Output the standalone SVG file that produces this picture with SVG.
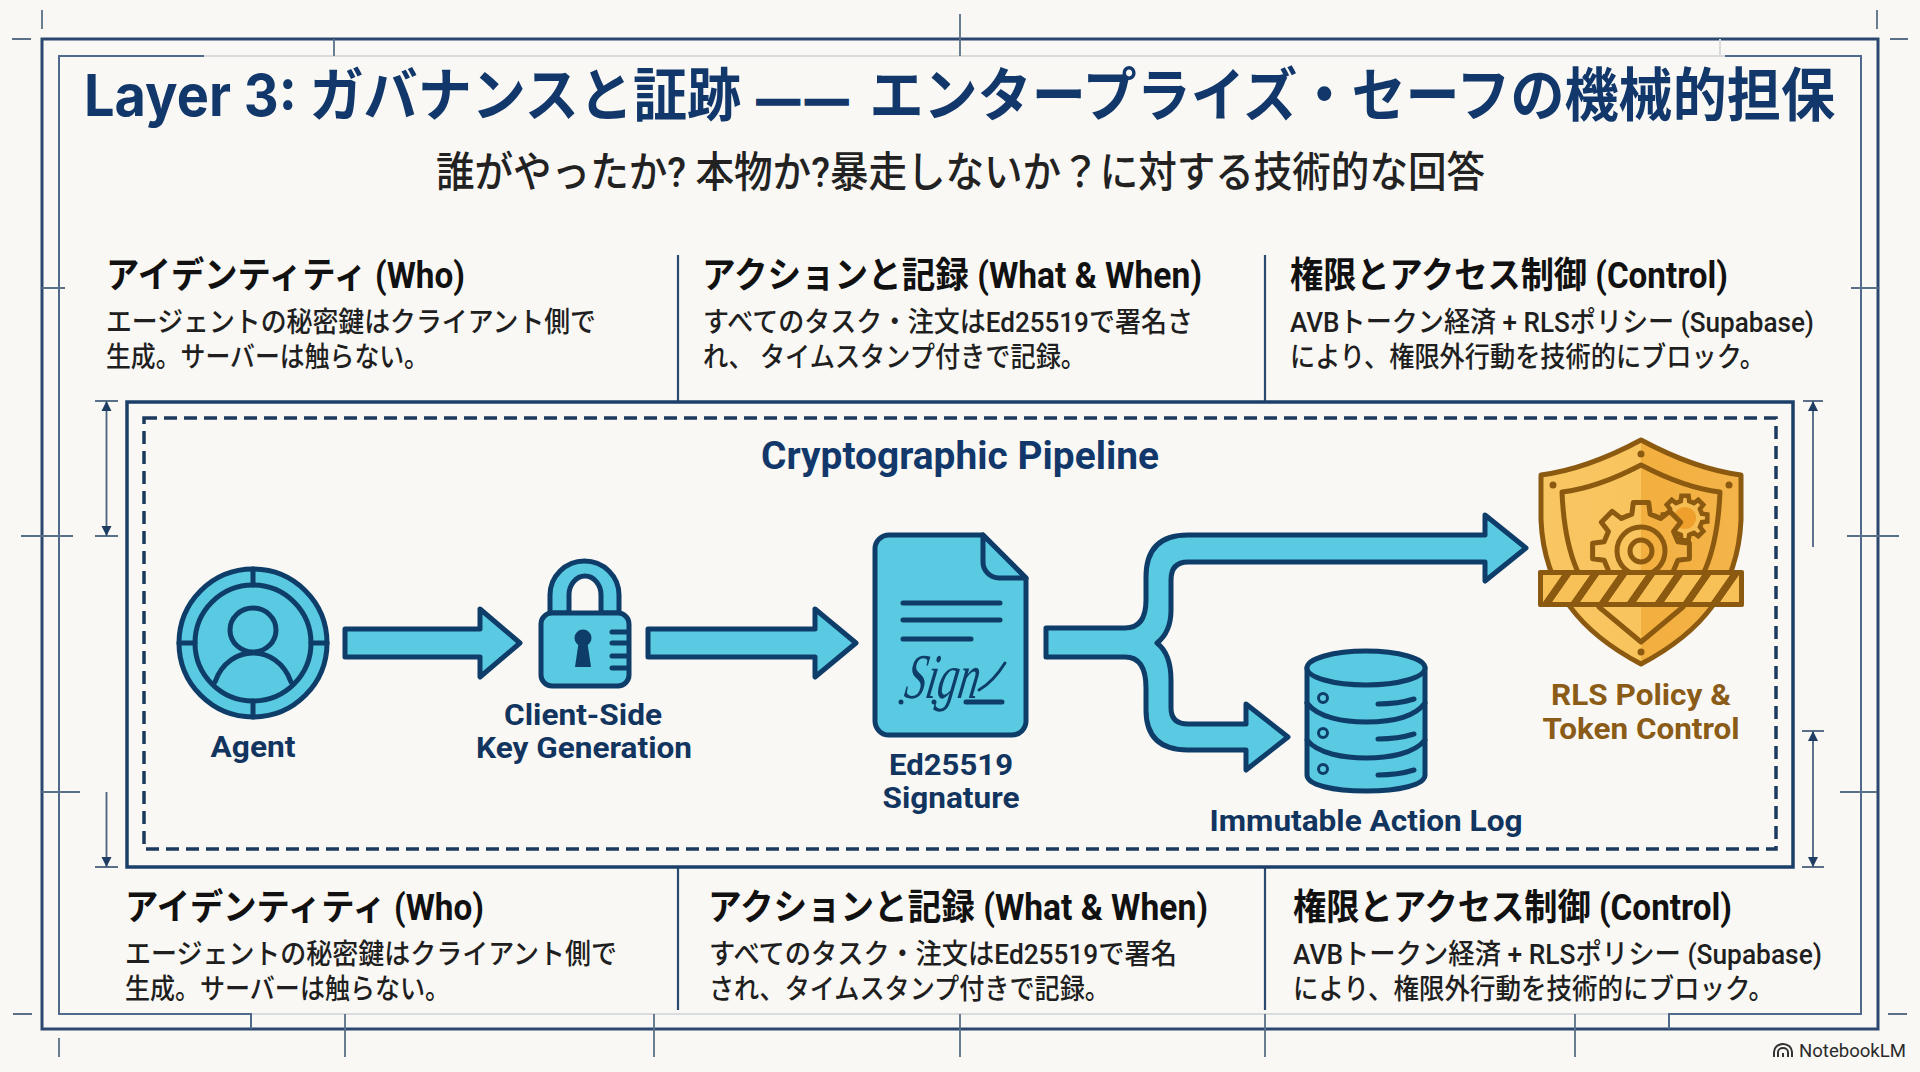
<svg xmlns="http://www.w3.org/2000/svg" width="1920" height="1072" viewBox="0 0 1920 1072">
<style>
text{font-family:Roboto,"Noto Sans CJK JP","Noto Sans",sans-serif}
.title{font-family:Inter,"Noto Sans CJK JP",sans-serif;font-size:58px;font-weight:700;fill:#12386b}
.sub{font-size:42px;fill:#222;font-weight:500}
.h{font-size:36px;font-weight:700;fill:#111}
.b{font-size:28px;fill:#1f1f1f;font-weight:500}
.lab{font-size:30px;font-weight:700;fill:#12355f;text-anchor:middle}
.gold{fill:#8a5c18}
.frame{fill:none;stroke:#2c4870;stroke-width:3}
.inner{fill:none;stroke:#4f6a8a;stroke-width:2}
.pale{fill:none;stroke:#d9dcdc;stroke-width:2}
.tick{fill:none;stroke:#5a7088;stroke-width:1.8}
.dim{fill:none;stroke:#4a6380;stroke-width:1.8}
.div{fill:none;stroke:#2c4a70;stroke-width:2.2}
.ic{fill:#5ac9e2;stroke:#0f3d69;stroke-width:5;stroke-linejoin:round;stroke-linecap:round}
.ln{fill:none;stroke:#0f3d69;stroke-width:5;stroke-linecap:round;stroke-linejoin:round}
.arr{fill:#5ac9e2;stroke:#0f3d69;stroke-width:5;stroke-linejoin:round}
.sh{fill:url(#split);stroke:#8b5a10;stroke-width:5;stroke-linejoin:round}
.shn{fill:none;stroke:#8b5a10;stroke-width:5;stroke-linejoin:round}
.riv{fill:#8b5a10}
</style>
<defs>
<linearGradient id="split" x1="0" x2="1" y1="0" y2="0"><stop offset="0" stop-color="#f8c662"/><stop offset=".5" stop-color="#f8c45e"/><stop offset=".5" stop-color="#f3af3e"/><stop offset="1" stop-color="#f4b44a"/></linearGradient>
<marker id="ah" viewBox="0 0 10 12" refX="10" refY="6" markerWidth="10" markerHeight="12" orient="auto-start-reverse" markerUnits="userSpaceOnUse"><path d="M0 1L10 6L0 11Z" fill="#1f3d63"/></marker>
<pattern id="stripe" width="28" height="27" patternUnits="userSpaceOnUse" patternTransform="translate(1543 575) skewX(-35)"><rect width="19" height="27" fill="#f8c158"/></pattern>
<path id="gear" d="M36.87 -9.19L48.4 -7.67L48.4 7.67L36.87 9.19L32.57 19.57L39.64 28.8L28.8 39.64L19.57 32.57L9.19 36.87L7.67 48.4L-7.67 48.4L-9.19 36.87L-19.57 32.57L-28.8 39.64L-39.64 28.8L-32.57 19.57L-36.87 9.19L-48.4 7.67L-48.4 -7.67L-36.87 -9.19L-32.57 -19.57L-39.64 -28.8L-28.8 -39.64L-19.57 -32.57L-9.19 -36.87L-7.67 -48.4L7.67 -48.4L9.19 -36.87L19.57 -32.57L28.8 -39.64L39.64 -28.8L32.57 -19.57Z"/>
</defs>
<rect width="1920" height="1072" fill="#f9f8f4"/>

<g id="frame">
<rect class="frame" x="42" y="39" width="1836" height="990"/>
<path class="pale" d="M204 56H1725M1720 39V56M251 1014H1669"/>
<path class="inner" d="M204 56H59V1014H251V1029M1725 56H1861V1014H1669V1029"/>
<path class="tick" d="M42 10V29M12 39H31M334 39V56M960 14V56M1877 10V29M1890 39H1908M13 1014H32M1888 1014H1907M59 1038V1057M345 1014V1057M654 1014V1057M960 1014V1057M1265 1014V1057M1575 1014V1057M42 288H65M1851 288H1878M21 536H73M1847 536H1899M42 792H80M1840 792H1877M95 401H118M95 536H118M95 867H118M1803 401H1823M1802 731H1824M1802 867H1824"/>
<path class="dim" d="M106.500 401V536" marker-start="url(#ah)" marker-end="url(#ah)"/>
<path class="dim" d="M106.500 792V867" marker-end="url(#ah)"/>
<path class="dim" d="M1813 547V401" marker-end="url(#ah)"/>
<path class="dim" d="M1813 731V867" marker-start="url(#ah)" marker-end="url(#ah)"/>
<path class="div" d="M678 255V402M1265 255V402M678 867V1010M1265 867V1010"/>
</g>

<g id="heading">
<text class="title" x="84" y="116" textLength="1751" lengthAdjust="spacingAndGlyphs">Layer 3: ガバナンスと証跡 <tspan dx="3" font-size="46" letter-spacing="6" stroke="#12386b" stroke-width="1.500">——</tspan><tspan dx="3"> エンタープライズ・セーフの機械的担保</tspan></text>
<text class="sub" x="436" y="187" textLength="1049" lengthAdjust="spacingAndGlyphs">誰がやったか? 本物か?暴走しないか？に対する技術的な回答</text>
</g>

<g id="top-who">
<text class="h" x="106" y="288" textLength="359" lengthAdjust="spacingAndGlyphs">アイデンティティ (Who)</text>
<text class="b" x="106" y="332" textLength="490" lengthAdjust="spacingAndGlyphs">エージェントの秘密鍵はクライアント側で</text>
<text class="b" x="106" y="367" textLength="323" lengthAdjust="spacingAndGlyphs">生成。サーバーは触らない。</text>
</g>
<g id="top-what">
<text class="h" x="702" y="288" textLength="500" lengthAdjust="spacingAndGlyphs">アクションと記録 (What &amp; When)</text>
<text class="b" x="703" y="332" textLength="490" lengthAdjust="spacingAndGlyphs">すべてのタスク・注文はEd25519で署名さ</text>
<text class="b" x="703" y="367" textLength="383" lengthAdjust="spacingAndGlyphs">れ、 タイムスタンプ付きで記録。</text>
</g>
<g id="top-control">
<text class="h" x="1290" y="288" textLength="438" lengthAdjust="spacingAndGlyphs">権限とアクセス制御 (Control)</text>
<text class="b" x="1290" y="332" textLength="524" lengthAdjust="spacingAndGlyphs">AVBトークン経済 + RLSポリシー (Supabase)</text>
<text class="b" x="1290" y="367" textLength="475" lengthAdjust="spacingAndGlyphs">により、権限外行動を技術的にブロック。</text>
</g>

<g id="pipeline-box">
<rect x="127" y="402" width="1666" height="465" fill="none" stroke="#1c3f6a" stroke-width="3.500"/>
<rect x="144" y="418" width="1632" height="431" fill="none" stroke="#1c3a5e" stroke-width="3.500" stroke-dasharray="13 7"/>
<text x="960" y="469" text-anchor="middle" font-size="38" font-weight="700" fill="#12386b" textLength="398" lengthAdjust="spacingAndGlyphs">Cryptographic Pipeline</text>
</g>

<g id="connectors">
<path class="arr" d="M345 629H480V609L520 643L480 677V657H345Z"/>
<path class="arr" d="M648 629H815V609L856 643L815 677V657H648Z"/>
<path class="arr" d="M1046 628H1125Q1146 628 1146 600V577Q1146 535 1188 535H1485V515L1526 548L1485 581V562H1188Q1171 562 1171 580V610Q1171 632 1157 643Q1171 654 1171 680V708Q1171 724 1188 724H1246V704L1288 737L1246 770V750H1188Q1146 750 1146 710V688Q1146 657 1125 657H1046Z"/>
</g>

<g id="agent">
<circle class="ic" cx="253" cy="643" r="74"/>
<circle class="ic" cx="253" cy="643" r="58"/>
<path class="ln" d="M253 569V585M253 701V717M179 643H195M311 643H327"/>
<ellipse class="ln" cx="253" cy="630" rx="23" ry="22"/>
<path class="ln" d="M215 682C222 662 238 653 253 653C268 653 284 662 291 682"/>
<text class="lab" x="253" y="757" textLength="85" lengthAdjust="spacingAndGlyphs">Agent</text>
</g>

<g id="key-generation">
<path class="ic" d="M550 613V595A34.500 34 0 0 1 619 595V613H601V595A16 19 0 0 0 569 595V613Z"/>
<rect class="ic" x="541" y="613" width="88" height="73" rx="11"/>
<path class="ln" d="M612 632H627M612 643H627M612 656H627M612 668H627"/>
<circle cx="583" cy="638" r="8.500" fill="#0f3d69"/>
<path d="M579 640L575 667H591L587 640Z" fill="#0f3d69"/>
<text class="lab" x="583" y="725" textLength="158" lengthAdjust="spacingAndGlyphs">Client-Side</text>
<text class="lab" x="584" y="758" textLength="216" lengthAdjust="spacingAndGlyphs">Key Generation</text>
</g>

<g id="signature">
<path class="ic" d="M889 535H983L1026 578V721A14 14 0 0 1 1012 735H889A14 14 0 0 1 875 721V549A14 14 0 0 1 889 535Z"/>
<path class="ic" d="M983 535V562A16 16 0 0 0 999 578H1026Z"/>
<path class="ln" d="M903 603H1000M903 620H1000M903 639H971M966 702H1002"/>
<text x="905" y="698" font-size="64" font-style="italic" fill="#0f3d69" transform="skewX(-10) translate(121 0)" style="font-family:'Liberation Serif',serif" textLength="74" lengthAdjust="spacingAndGlyphs">Sign</text>
<path d="M979 690Q993 682 1005 663" fill="none" stroke="#0f3d69" stroke-width="3" stroke-linecap="round"/>
<circle cx="901" cy="702" r="2.500" fill="#0f3d69"/><circle cx="934" cy="702" r="2.500" fill="#0f3d69"/>
<text class="lab" x="951" y="775" textLength="124" lengthAdjust="spacingAndGlyphs">Ed25519</text>
<text class="lab" x="951" y="808" textLength="137" lengthAdjust="spacingAndGlyphs">Signature</text>
</g>

<g id="action-log">
<path class="ic" d="M1307 668V775C1307 785 1333 791 1366 791C1399 791 1425 785 1425 775V668Z"/>
<ellipse class="ic" cx="1366" cy="668" rx="59" ry="17"/>
<path class="ln" d="M1307 703C1318 718 1345 722 1366 722C1388 722 1414 718 1425 703M1307 740C1318 754 1345 758 1366 758C1388 758 1414 754 1425 740"/>
<circle cx="1323" cy="698" r="4.500" fill="none" stroke="#0f3d69" stroke-width="3"/><circle cx="1323" cy="733" r="4.500" fill="none" stroke="#0f3d69" stroke-width="3"/><circle cx="1323" cy="769" r="4.500" fill="none" stroke="#0f3d69" stroke-width="3"/>
<path class="ln" d="M1378 704Q1398 704 1414 699M1378 739Q1398 739 1414 734M1378 775Q1398 775 1414 770"/>
<text class="lab" x="1366" y="831" textLength="313" lengthAdjust="spacingAndGlyphs">Immutable Action Log</text>
</g>

<g id="rls-policy">
<path class="sh" d="M1641 440Q1695 469 1741 475V520C1738 590 1700 633 1641 664C1582 633 1544 590 1541 520V475Q1587 469 1641 440Z"/>
<path class="shn" d="M1641 465Q1685 488 1720 492Q1718 540 1705 570L1683 607L1641 642L1599 607L1577 570Q1564 540 1562 492Q1597 488 1641 465Z"/>
<circle class="riv" cx="1641" cy="454" r="3.500"/><circle class="riv" cx="1553" cy="485" r="3.500"/><circle class="riv" cx="1729" cy="485" r="3.500"/><circle class="riv" cx="1641" cy="652" r="3.500"/>
<use href="#gear" transform="translate(1685 518) scale(.46)" fill="#f7bd55" stroke="#8b5a10" stroke-width="10"/>
<circle cx="1685" cy="518" r="11" fill="#ee9f2c"/>
<use href="#gear" class="sh" transform="translate(1641 551)"/>
<circle class="shn" cx="1641" cy="551" r="24"/>
<circle class="shn" cx="1641" cy="551" r="11"/>
<rect x="1538" y="570" width="206" height="37" rx="2" fill="#8b5a10"/>
<rect x="1543" y="575" width="196" height="27" fill="url(#stripe)"/>
<text class="lab gold" x="1641" y="705" textLength="180" lengthAdjust="spacingAndGlyphs">RLS Policy &amp;</text>
<text class="lab gold" x="1641" y="739" textLength="197" lengthAdjust="spacingAndGlyphs">Token Control</text>
</g>

<g id="bottom-who">
<text class="h" x="125" y="920" textLength="359" lengthAdjust="spacingAndGlyphs">アイデンティティ (Who)</text>
<text class="b" x="125" y="964" textLength="492" lengthAdjust="spacingAndGlyphs">エージェントの秘密鍵はクライアント側で</text>
<text class="b" x="125" y="999" textLength="325" lengthAdjust="spacingAndGlyphs">生成。サーバーは触らない。</text>
</g>
<g id="bottom-what">
<text class="h" x="708" y="920" textLength="500" lengthAdjust="spacingAndGlyphs">アクションと記録 (What &amp; When)</text>
<text class="b" x="709" y="964" textLength="468" lengthAdjust="spacingAndGlyphs">すべてのタスク・注文はEd25519で署名</text>
<text class="b" x="709" y="999" textLength="401" lengthAdjust="spacingAndGlyphs">され、タイムスタンプ付きで記録。</text>
</g>
<g id="bottom-control">
<text class="h" x="1293" y="920" textLength="439" lengthAdjust="spacingAndGlyphs">権限とアクセス制御 (Control)</text>
<text class="b" x="1293" y="964" textLength="529" lengthAdjust="spacingAndGlyphs">AVBトークン経済 + RLSポリシー (Supabase)</text>
<text class="b" x="1293" y="999" textLength="481" lengthAdjust="spacingAndGlyphs">により、権限外行動を技術的にブロック。</text>
</g>

<g id="notebooklm">
<path d="M1774 1057V1052A9 8 0 0 1 1792 1052V1057M1778 1057V1052A5 4 0 0 1 1788 1052V1057M1783 1057V1053" fill="none" stroke="#333" stroke-width="2"/>
<text x="1799" y="1057" font-size="18" fill="#2b2b2b" textLength="107" lengthAdjust="spacingAndGlyphs">NotebookLM</text>
</g>
</svg>
